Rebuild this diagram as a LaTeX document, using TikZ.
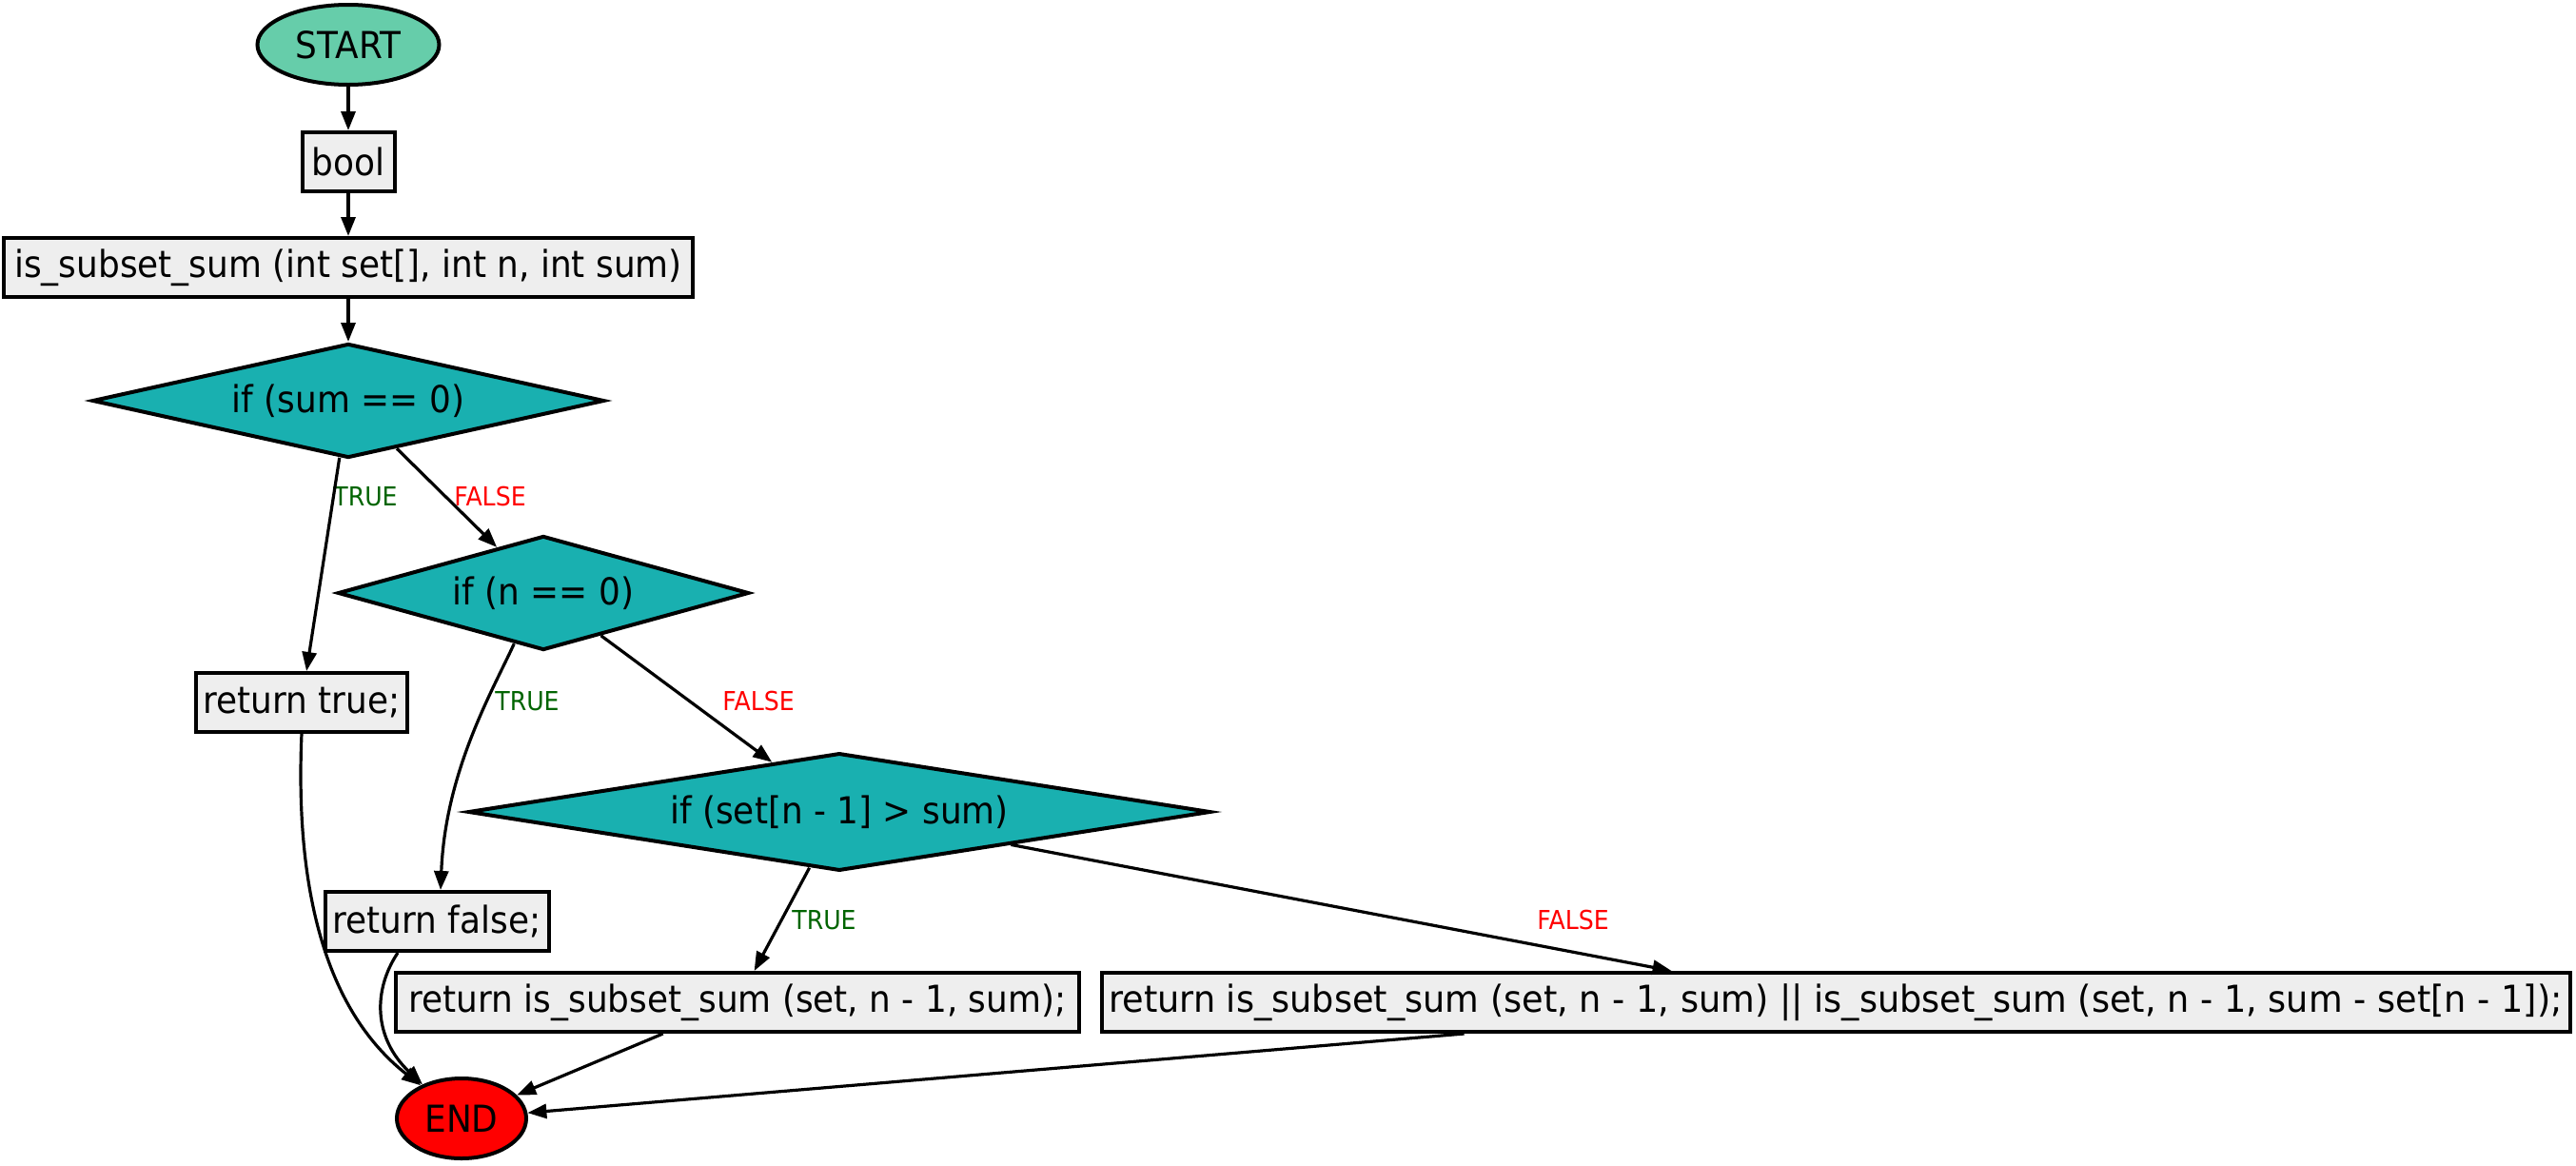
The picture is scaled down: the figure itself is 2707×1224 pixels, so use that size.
\documentclass[tikz,border=0pt]{standalone}
\usepackage{fontspec}
\setmainfont{DejaVu Sans}[FakeStretch=0.92]
\usetikzlibrary{shapes.geometric,arrows.meta}
\definecolor{startc}{RGB}{102,205,170}
\definecolor{decc}{RGB}{25,176,176}
\definecolor{boxc}{RGB}{238,238,238}
\definecolor{truec}{RGB}{0,100,0}
\definecolor{falsec}{RGB}{255,0,0}
\begin{document}
\begin{tikzpicture}[x=1pt,y=-1pt,
  base/.style={draw=black, line width=4pt, inner sep=0pt, font=\fontsize{39pt}{46pt}\selectfont, text=black},
  proc/.style={base, rectangle, fill=boxc, minimum height=62pt},
  dec/.style={base, diamond, fill=decc, minimum height=120pt, aspect=4},
  term/.style={base, ellipse},
  edge/.style={draw=black, line width=3.2pt, -{Triangle[length=20pt,width=15pt]}},
  lbl/.style={font=\fontsize{27.4pt}{33pt}\selectfont, inner sep=0pt},
]
\useasboundingbox (0,0) rectangle (2707,1224);
% nodes
\node[term, fill=startc, minimum width=191pt, minimum height=84pt] (start) at (366,47) {START};
\node[proc, minimum width=97pt] (bool) at (366,170) {bool};
\node[proc, minimum width=724pt] (func) at (366,281) {is\_subset\_sum (int set[], int n, int sum)};
\node[dec, minimum width=538pt] (d1) at (366,421) {if (sum == 0)};
\node[dec, minimum width=432pt] (d2) at (571,623) {if (n == 0)};
\node[proc, minimum width=222pt] (rtrue) at (317,738) {return true;};
\node[dec, minimum width=780pt] (d3) at (882,853) {if (set[n - 1] > sum)};
\node[proc, minimum width=235pt] (rfalse) at (459,968) {return false;};
\node[proc, minimum width=718pt] (rsub) at (775,1053) {return is\_subset\_sum (set, n - 1, sum);};
\node[proc, minimum width=1543pt] (rboth) at (1929,1053) {\addfontfeature{FakeStretch=0.94}return is\_subset\_sum (set, n - 1, sum) || is\_subset\_sum (set, n - 1, sum - set[n - 1]);};
\node[term, fill=red, minimum width=136pt, minimum height=84pt] (end) at (485,1175) {END};
% edge labels
\node[lbl, text=truec] (t1) at (384,522) {TRUE};
\node[lbl, text=falsec] (f1) at (515,522) {FALSE};
\node[lbl, text=truec] (t2) at (554,737) {TRUE};
\node[lbl, text=falsec] (f2) at (797,737) {FALSE};
\node[lbl, text=truec] (t3) at (866,967) {TRUE};
\node[lbl, text=falsec] (f3) at (1653,967) {FALSE};
% edges
\draw[edge] (start) -- (bool);
\draw[edge] (bool) -- (func);
\draw[edge] (func) -- (d1);
\draw[edge] (d1) -- (rtrue);
\draw[edge] (d1) -- (d2);
\draw[edge] (d2.-120.6) .. controls (518,725) and (468,810) .. ([xshift=4pt]rfalse.north);
\draw[edge] (d2) -- (d3);
\draw[edge] (d3) -- (rsub);
\draw[edge] (d3) -- (rboth);
\draw[edge] (rtrue.south) .. controls (310,930) and (340,1060) .. (end.141);
\draw[edge] ([xshift=-41pt]rfalse.south) .. controls (392,1040) and (392,1090) .. (end.139);
\draw[edge] (rsub) -- (end);
\draw[edge] (rboth) -- (end);
\end{tikzpicture}
\end{document}
